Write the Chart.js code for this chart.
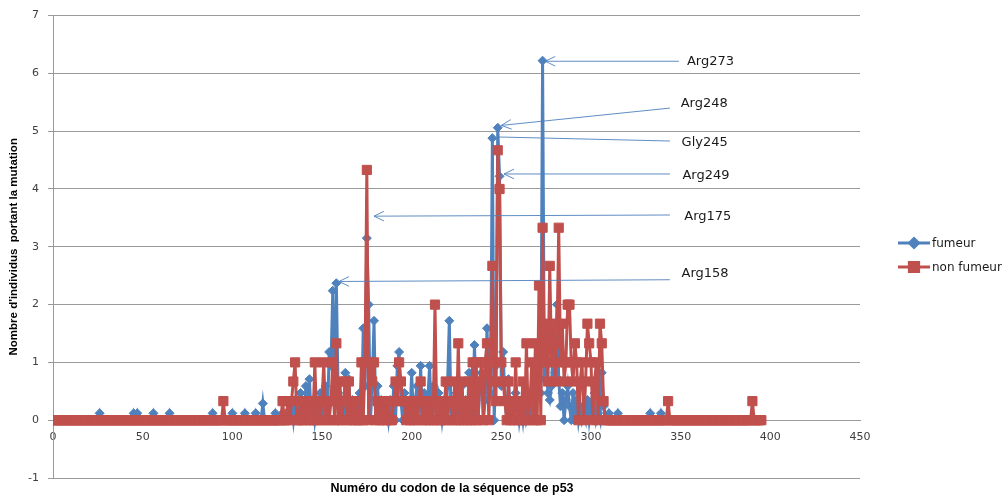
<!DOCTYPE html>
<html>
<head>
<meta charset="utf-8">
<script src="https://cdn.jsdelivr.net/npm/chart.js@4.4.0/dist/chart.umd.min.js"></script>
<style>
  body { margin: 0; background: #fff; }
  canvas { display: block; }
</style>
</head>
<body>
<canvas id="mutationChart" width="1004" height="495"></canvas>
<script>
// codons 0..395 are plotted; any codon not listed below has the value 0
const firstCodon = 0;
const lastCodon = 395;

// fumeur: non-zero codons and their values
const fumeurCodons = [26, 45, 47, 56, 65, 89, 100, 107, 113, 117, 124, 128, 130, 133, 135, 138, 141, 143, 145, 147,
  149, 151, 152, 154, 155, 156, 158, 159, 161, 163, 165, 167, 170, 171, 173, 174, 175, 176, 178, 179,
  181, 183, 186, 188, 190, 192, 193, 194, 196, 198, 200, 202, 203, 205, 207, 209, 210, 212, 213, 215,
  216, 218, 220, 221, 223, 225, 227, 228, 230, 232, 235, 236, 238, 239, 241, 242, 243, 244, 245, 247,
  248, 249, 250, 251, 252, 254, 256, 258, 259, 261, 263, 265, 266, 268, 270, 271, 272, 273, 274, 275,
  276, 277, 278, 279, 280, 281, 282, 283, 284, 286, 287, 288, 290, 292, 294, 296, 298, 300, 302, 304,
  306, 307, 310, 315, 333, 339];
const fumeurValues = [0.12, 0.12, 0.12, 0.12, 0.12, 0.12, 0.12, 0.12, 0.12, 0.29, 0.12, 0.12, 0.12, 0.24, 0.35, 0.47, 0.59, 0.71, 0.35, 0.24,
  0.47, 0.35, 0.59, 1.18, 0.94, 2.24, 2.37, 0.47, 0.35, 0.82, 0.71, 0.35, 0.24, 0.47, 1.59, 0.59, 3.15, 2.0, 0.59, 1.72,
  0.59, 0.35, 0.24, 0.35, 0.59, 0.94, 1.18, 0.35, 0.47, 0.24, 0.82, 0.35, 0.59, 0.94, 0.47, 0.35, 0.94, 0.59, 0.24, 0.47,
  0.35, 0.24, 0.59, 1.72, 0.35, 0.47, 0.24, 0.59, 0.35, 0.82, 1.3, 0.47, 0.59, 0.82, 0.35, 1.59, 0.71, 0.47, 4.88, 0.94,
  5.06, 4.22, 0.59, 1.18, 0.35, 0.71, 0.24, 0.47, 0.35, 0.24, 0.35, 0.12, 0.47, 0.35, 0.59, 1.06, 0.47, 6.22, 0.71, 0.94,
  0.47, 0.35, 0.59, 1.41, 0.82, 2.0, 0.71, 0.24, 0.47, 0.35, 0.59, 0.24, 0.47, 0.35, 0.24, 0.12, 0.35, 0.24, 0.47, 0.12,
  0.82, 0.24, 0.12, 0.12, 0.12, 0.12];

// non fumeur: non-zero codons and their values
const nonFumeurCodons = [95, 128, 131, 133, 134, 135, 138, 140, 142, 144, 146, 148, 150, 151, 153, 155, 156, 158, 160, 162,
  163, 165, 167, 169, 172, 174, 175, 177, 178, 179, 181, 183, 185, 187, 190, 191, 192, 193, 194, 195,
  196, 198, 200, 202, 204, 205, 207, 209, 211, 213, 215, 217, 219, 221, 222, 224, 226, 228, 230, 232,
  234, 236, 238, 239, 241, 242, 244, 245, 246, 247, 248, 249, 250, 251, 252, 254, 256, 258, 260, 262,
  264, 266, 267, 269, 271, 273, 274, 275, 276, 277, 278, 279, 280, 281, 282, 283, 284, 285, 286, 287,
  288, 289, 290, 291, 292, 294, 295, 297, 298, 299, 300, 302, 303, 305, 306, 307, 343, 390];
const nonFumeurValues = [0.33, 0.33, 0.33, 0.33, 0.67, 1, 0.33, 0.33, 0.33, 0.33, 1, 0.33, 0.33, 1, 0.33, 0.33, 1, 1.33, 0.67, 0.33,
  0.67, 0.67, 0.33, 0.33, 1, 1, 4.33, 1, 0.67, 1, 0.33, 0.33, 0.33, 0.33, 0.33, 0.67, 0.33, 1, 0.67, 0.33,
  0.33, 0.33, 0.33, 0.33, 0.33, 0.67, 0.33, 0.33, 0.33, 2, 0.33, 0.33, 0.67, 0.33, 0.33, 0.67, 1.33, 0.67, 0.33, 0.67,
  1, 1, 0.67, 1, 1, 1.33, 1, 2.67, 0.67, 0.33, 4.67, 4, 1, 0.67, 0.33, 0.67, 0.33, 1, 0.33, 0.67,
  1.33, 0.33, 1, 1.33, 2.33, 3.33, 1, 1.67, 0.67, 2.67, 1, 1.67, 0.67, 1.33, 3.33, 1, 1.67, 0.67, 1, 2,
  2, 1, 0.67, 1.33, 1, 0.67, 1, 0.67, 1.67, 1.33, 1, 0.67, 1, 1.67, 1.33, 0.33, 0.33, 0.33];

// labelled hotspots: arrow tip, start of the arrow line, label position (all in data units)
const hotspots = [
  { text: 'Arg273', tip: [274.5, 6.21], from: [349, 6.21], at: [353.5, 6.21], head: true },
  { text: 'Arg248', tip: [250, 5.1], from: [344, 5.40], at: [350, 5.47], head: true },
  { text: 'Gly245', tip: [248, 4.9], from: [344, 4.83], at: [350.5, 4.81], head: false },
  { text: 'Arg249', tip: [251.5, 4.26], from: [344, 4.26], at: [351, 4.24], head: true },
  { text: 'Arg175', tip: [179, 3.53], from: [344, 3.55], at: [352, 3.53], head: true },
  { text: 'Arg158', tip: [159.5, 2.40], from: [344, 2.43], at: [350.5, 2.53], head: true }
];

const blue = '#4F81BD';
const red = '#C0504D';
const gridColor = '#9a9a9a';
const tickColor = '#404040';

function buildSeries(hitCodons, hitValues) {
  const lookup = {};
  hitCodons.forEach((c, i) => { lookup[c] = hitValues[i]; });
  const points = [];
  for (let c = firstCodon; c <= lastCodon; c++) {
    points.push({ x: c, y: lookup[c] || 0 });
  }
  return points;
}

// arrows, labels, legend and the x title are drawn by hand
const overlayPlugin = {
  id: 'overlay',
  afterDatasetsDraw(chart) {
    const ctx = chart.ctx;
    const xs = chart.scales.x;
    const ys = chart.scales.y;
    ctx.save();
    hotspots.forEach(h => {
      const tx = xs.getPixelForValue(h.tip[0]), ty = ys.getPixelForValue(h.tip[1]);
      const fx = xs.getPixelForValue(h.from[0]), fy = ys.getPixelForValue(h.from[1]);
      ctx.strokeStyle = 'rgba(79,129,189,0.9)';
      ctx.lineWidth = 1;
      ctx.beginPath();
      ctx.moveTo(fx, fy);
      ctx.lineTo(tx, ty);
      if (h.head) {
        const ang = Math.atan2(ty - fy, tx - fx);
        for (const d of [-0.45, 0.45]) {
          ctx.moveTo(tx, ty);
          ctx.lineTo(tx - 11 * Math.cos(ang + d), ty - 11 * Math.sin(ang + d));
        }
      }
      ctx.stroke();
      ctx.fillStyle = '#1a1a1a';
      ctx.font = '13px "DejaVu Sans"';
      ctx.textBaseline = 'middle';
      ctx.textAlign = 'left';
      ctx.fillText(h.text, xs.getPixelForValue(h.at[0]), ys.getPixelForValue(h.at[1]));
    });
    ctx.restore();
  },
  afterDraw(chart) {
    const ctx = chart.ctx;
    ctx.save();
    // legend
    const items = [
      { label: 'fumeur', color: blue, y: 243, style: 'rectRot', r: 4.5 },
      { label: 'non fumeur', color: red, y: 267, style: 'rect', r: 6.5 }
    ];
    items.forEach(it => {
      ctx.strokeStyle = it.color;
      ctx.lineWidth = 3;
      ctx.beginPath();
      ctx.moveTo(898, it.y);
      ctx.lineTo(930, it.y);
      ctx.stroke();
      ctx.fillStyle = it.color;
      Chart.helpers.drawPoint(ctx, { pointStyle: it.style, radius: it.r, borderWidth: 1 }, 914, it.y);
      ctx.fill();
      ctx.fillStyle = '#1a1a1a';
      ctx.font = '12px "DejaVu Sans"';
      ctx.textBaseline = 'middle';
      ctx.textAlign = 'left';
      ctx.fillText(it.label, 932, it.y + 1);
    });
    // x axis title
    ctx.fillStyle = '#000';
    ctx.font = 'bold 12.5px "Liberation Sans"';
    ctx.textAlign = 'center';
    ctx.textBaseline = 'middle';
    ctx.fillText('Numéro du codon de la séquence de p53', 452, 489);
    ctx.restore();
  }
};

const ctx = document.getElementById('mutationChart').getContext('2d');
const mutationChart = new Chart(ctx, {
  type: 'line',
  data: {
    datasets: [
      {
        label: 'fumeur',
        data: buildSeries(fumeurCodons, fumeurValues),
        borderColor: blue,
        backgroundColor: blue,
        borderWidth: 3,
        pointStyle: 'rectRot',
        pointRadius: 4.5,
        pointBorderWidth: 1,
        order: 1
      },
      {
        label: 'non fumeur',
        data: buildSeries(nonFumeurCodons, nonFumeurValues),
        borderColor: red,
        backgroundColor: red,
        borderWidth: 3,
        pointStyle: 'rect',
        pointRadius: 6.5,
        pointBorderWidth: 1,
        order: 0
      }
    ]
  },
  options: {
    responsive: false,
    animation: false,
    layout: { padding: { top: 12, right: 144, bottom: 17, left: 0 } },
    plugins: {
      legend: { display: false },
      tooltip: { enabled: false }
    },
    scales: {
      x: {
        type: 'linear',
        position: { y: 0 },
        min: 0,
        max: 450,
        ticks: { stepSize: 50, color: tickColor, font: { family: 'DejaVu Sans', size: 11 }, padding: 10, maxRotation: 0 },
        grid: { display: false, drawTicks: false },
        border: { color: gridColor }
      },
      y: {
        min: -1,
        max: 7,
        ticks: { stepSize: 1, color: tickColor, font: { family: 'DejaVu Sans', size: 11 }, padding: 9 },
        grid: { color: gridColor, tickLength: 5 },
        border: { color: gridColor },
        title: {
          display: true,
          text: "Nombre d'individus  portant la mutation",
          color: '#000',
          font: { family: 'Liberation Sans', size: 11.5, weight: 'bold' },
          padding: { top: 7, bottom: 0 }
        },
        afterFit(scale) { scale.width = 53; }
      }
    }
  },
  plugins: [overlayPlugin]
});
</script>
</body>
</html>
